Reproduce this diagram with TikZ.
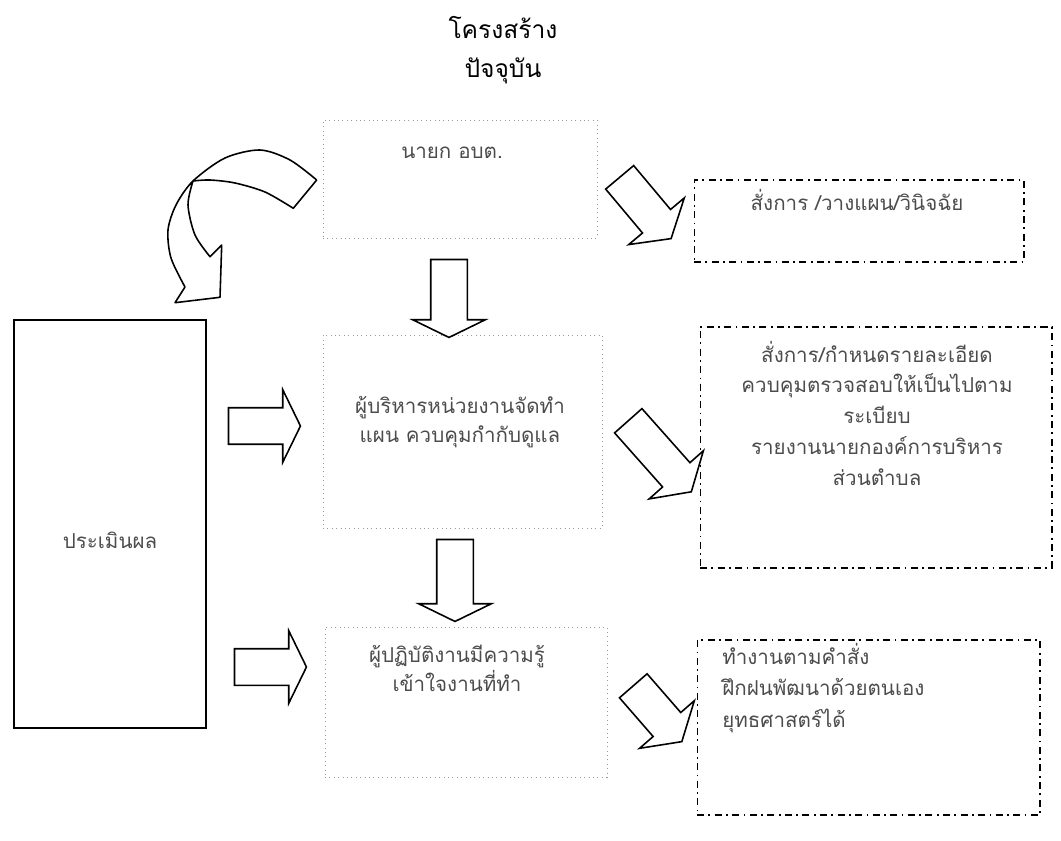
\documentclass[tikz,border=0pt]{standalone}
\usepackage{fontspec}
\newfontfamily\thaifont[Script=Thai]{Loma}
\usepackage{tikz}
\tikzset{>=latex}
\tikzstyle{softbox} = [draw=black!40, dotted, line width=0.5pt, inner sep=0pt]
\tikzstyle{dashbox} = [draw=black, dash pattern=on 4pt off 2.5pt on 1pt off 2.5pt, line width=0.6pt, inner sep=0pt]
\tikzstyle{solidbox} = [draw=black, line width=0.9pt, inner sep=0pt]
\tikzstyle{txt} = [font=\thaifont\fontsize{11.7}{16.5}\selectfont, text=black!70, align=center, inner sep=0pt]
\tikzstyle{fat} = [single arrow, draw=black, fill=white, line width=0.9pt, inner xsep=0pt, inner ysep=0.35cm, single arrow head extend=0.36cm]
\usetikzlibrary{shapes.arrows}

\begin{document}
\begin{tikzpicture}[x=0.02cm, y=-0.02cm]
    \useasboundingbox (0,0) rectangle (1061,841);
    \node[txt, text=black, font=\thaifont\fontsize{14}{22.5}\selectfont] (title) at (503,50) {โครงสร้าง\\ปัจจุบัน};

    % boxes
    \node[softbox, minimum width=5.48cm, minimum height=2.36cm] (nayok) at (460,179) {};
    \node[softbox, minimum width=5.58cm, minimum height=3.86cm] (exec) at (462.5,431.5) {};
    \node[softbox, minimum width=5.64cm, minimum height=3.0cm] (staff) at (466,702) {};
    \node[solidbox, minimum width=3.84cm, minimum height=8.16cm] (eval) at (110,524) {};
    \node[dashbox, minimum width=6.6cm, minimum height=1.64cm] (order) at (859,221) {};
    \node[dashbox, minimum width=7.04cm, minimum height=4.82cm] (detail) at (876,447.5) {};
    \node[dashbox, minimum width=6.86cm, minimum height=3.5cm] (work) at (868.5,727.5) {};

    \node[txt] (nayoktxt) at (452,153) {นายก อบต.};
    \node[txt] (exectxt) at (460,422) {ผู้บริหารหน่วยงานจัดทำ\\แผน ควบคุมกำกับดูแล};
    \node[txt] (stafftxt) at (457,668) {ผู้ปฏิบัติงานมีความรู้\\เข้าใจงานที่ทำ};
    \node[txt] (evaltxt) at (110,540) {ประเมินผล};
    \node[txt] (ordertxt) at (857,200) {สั่งการ /วางแผน/วินิจฉัย};
    \node[txt, font=\thaifont\fontsize{11.7}{17.5}\selectfont] (detailtxt) at (877,413) {สั่งการ/กำหนดรายละเอียด\\ควบคุมตรวจสอบให้เป็นไปตาม\\ระเบียบ\\รายงานนายกองค์การบริหาร\\ส่วนตำบล};
    \node[txt, align=left, anchor=west, font=\thaifont\fontsize{11.7}{18}\selectfont] (worktxt) at (722,688) {ทำงานตามคำสั่ง\\ฝึกฝนพัฒนาด้วยตนเอง\\ยุทธศาสตร์ได้};

    % block arrows
    \foreach \nm/\px/\py/\ang/\len/\tip in {down1/449/294/-90/1.56/128, down2/455/576/-90/1.64/128,
        right1/260/426/0/1.44/128, right2/266/667/0/1.44/128,
        diag1/641.7/203.6/-50/1.6/116, diag2/656/452/-48.4/1.9/116, diag3/653.8/709.4/-49/1.48/116}
    {
        \node[fat, rotate=\ang, minimum height=\len cm, single arrow tip angle=\tip] (\nm) at (\px,\py) {};
    }

    % curved arrow back to the top
    \draw[line width=0.9pt, line join=round] plot[smooth] coordinates {(316.7,180) (290,160) (260,150) (225,158) (193,181) (176,205) (168,230) (171,258) (185,287)}
        -- (175,302.7) -- (220,297.3) -- (221.7,245) -- (210,256.7)
        -- plot[smooth] coordinates {(210,256.7) (195,235) (188,205) (193,181)};
    \draw[line width=0.9pt, line join=round] plot[smooth] coordinates {(193,181) (210,180) (235,183) (265,192) (293.3,208.3)} -- (316.7,180);
\end{tikzpicture}
\end{document}
